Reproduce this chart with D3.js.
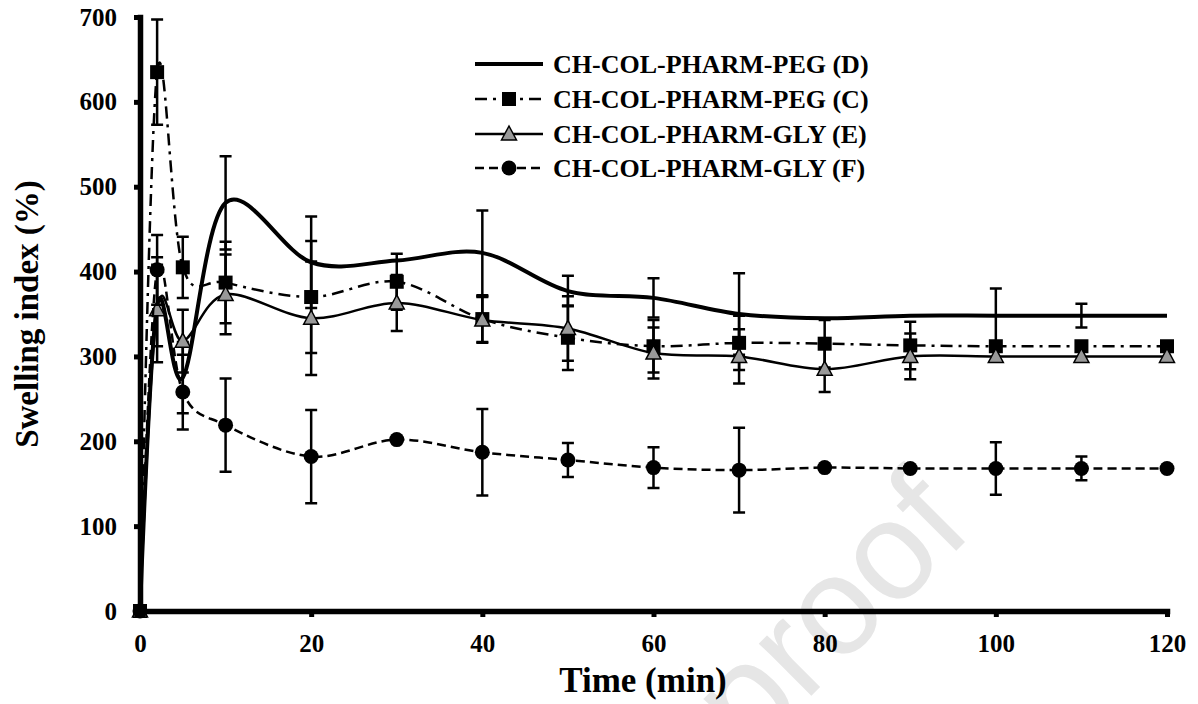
<!DOCTYPE html>
<html>
<head>
<meta charset="utf-8">
<script src="https://cdn.jsdelivr.net/npm/d3@7"></script>
<style>
    body { margin: 0; background: #fff; }
    svg { display: block; }
    text { font-family: 'Liberation Serif', 'Times New Roman', serif; font-weight: bold; fill: #000; }
</style>
</head>
<body>
<svg id="chart" width="1198" height="704"></svg>
<script>
// time points (min)
const times = [0, 2, 5, 10, 20, 30, 40, 50, 60, 70, 80, 90, 100, 110, 120];

// swelling index (%) per formulation
const pegD = [0, 360, 275, 481, 411, 413, 422, 377, 369, 350, 345, 348, 348, 348, 348];
const pegDErr = [0, 48, 42, 55, 54, 0, 50, 18, 23, 48, 0, 0, 32, 14, 0];
const pegC = [0, 635, 405, 387, 370, 388, 344, 322, 312, 316, 315, 313, 312, 312, 312];
const pegCErr = [0, 62, 36, 48, 66, 33, 27, 38, 31, 32, 28, 28, 0, 0, 0];
const glyE = [0, 355, 318, 373, 345, 363, 343, 333, 304, 300, 285, 300, 300, 300, 300];
const glyEErr = [0, 62, 37, 47, 67, 33, 27, 38, 30, 32, 27, 27, 0, 0, 0];
const glyF = [0, 402, 258, 219, 182, 202, 187, 178, 169, 166, 169, 168, 168, 168, 168];
const glyFErr = [0, 41, 44, 55, 55, 0, 51, 20, 24, 50, 0, 0, 31, 14, 0];

const seriesNames = ['CH-COL-PHARM-PEG (D)', 'CH-COL-PHARM-PEG (C)', 'CH-COL-PHARM-GLY (E)', 'CH-COL-PHARM-GLY (F)'];
const xTicks = [0, 20, 40, 60, 80, 100, 120];
const yTicks = [0, 100, 200, 300, 400, 500, 600, 700];

const series = [
    {name: seriesNames[0], values: pegD, errors: pegDErr, marker: 'none', dash: null, width: 4},
    {name: seriesNames[1], values: pegC, errors: pegCErr, marker: 'square', dash: '12,6,3,6', width: 2.5},
    {name: seriesNames[2], values: glyE, errors: glyEErr, marker: 'triangle', dash: null, width: 2.5},
    {name: seriesNames[3], values: glyF, errors: glyFErr, marker: 'circle', dash: '9,5', width: 2.5}
];

const svg = d3.select('#chart');

const x = d3.scaleLinear().domain([0, 120]).range([140, 1167]);
const y = d3.scaleLinear().domain([0, 700]).range([611, 17]);

// watermark (only its last word shows inside the frame)
svg.append('text')
    .attr('transform', 'translate(975,532) rotate(-45)')
    .attr('text-anchor', 'end')
    .style('font-family', "'Liberation Sans', Arial, sans-serif")
    .style('font-weight', 'normal')
    .style('font-size', '140px')
    .style('fill', '#e6e6e6')
    .text('proof');

const line = d3.line()
    .x((d, i) => x(times[i]))
    .y(d => y(d))
    .curve(d3.curveCardinal.tension(0));

function drawMarker (g, type, cx, cy) {
    if (type == 'square') {
        g.append('rect')
            .attr('x', cx - 7)
            .attr('y', cy - 7)
            .attr('width', 14)
            .attr('height', 14)
            .style('fill', '#000');
    } else if (type == 'triangle') {
        g.append('path')
            .attr('d', `M${cx},${cy - 8}L${cx + 7.5},${cy + 6}L${cx - 7.5},${cy + 6}Z`)
            .style('fill', '#999')
            .style('stroke', '#000')
            .style('stroke-width', 1.5);
    } else if (type == 'circle') {
        g.append('circle')
            .attr('cx', cx)
            .attr('cy', cy)
            .attr('r', 7.5)
            .style('fill', '#000');
    }
}

const plot = svg.append('g').attr('class', 'plot');

series.forEach(s => {
    let g = plot.append('g');

    g.append('path')
        .datum(s.values)
        .attr('d', line)
        .style('fill', 'none')
        .style('stroke', '#000')
        .style('stroke-width', s.width)
        .style('stroke-dasharray', s.dash);

    // error bars
    s.values.forEach((v, i) => {
        let e = s.errors[i];
        if (!e) return;
        let cx = x(times[i]);
        g.append('path')
            .attr('d', `M${cx},${y(v - e)}V${y(v + e)}M${cx - 6},${y(v + e)}H${cx + 6}M${cx - 6},${y(v - e)}H${cx + 6}`)
            .style('fill', 'none')
            .style('stroke', '#000')
            .style('stroke-width', 2.5);
    });

    s.values.forEach((v, i) => {
        drawMarker(g, s.marker, x(times[i]), y(v));
    });
});

// axes
const xAxis = svg.append('g')
    .attr('transform', `translate(0,${y(0)})`)
    .call(d3.axisBottom(x).tickValues(xTicks).tickSize(6).tickSizeOuter(0).tickPadding(17));

const yAxis = svg.append('g')
    .attr('transform', `translate(${x(0)},0)`)
    .call(d3.axisLeft(y).tickValues(yTicks).tickSize(6).tickSizeOuter(0).tickPadding(17));

[xAxis, yAxis].forEach(a => {
    a.select('.domain')
        .style('stroke', '#000')
        .style('stroke-width', 5.5)
        .style('stroke-linecap', 'square');
    a.selectAll('.tick line')
        .style('stroke', '#000')
        .style('stroke-width', 5);
    a.selectAll('.tick text')
        .style('font-family', "'Liberation Serif', 'Times New Roman', serif")
        .style('font-weight', 'bold')
        .style('font-size', '25px')
        .style('fill', '#000');
});

svg.append('text')
    .attr('x', 643)
    .attr('y', 692)
    .attr('text-anchor', 'middle')
    .style('font-size', '35px')
    .text('Time (min)');

svg.append('text')
    .attr('transform', 'translate(38,314) rotate(-90)')
    .attr('text-anchor', 'middle')
    .style('font-size', '33px')
    .text('Swelling index (%)');

// legend
const legendY = [64, 99, 134, 168];
const legend = svg.append('g').attr('class', 'legend');

series.forEach((s, i) => {
    let ly = legendY[i];
    legend.append('path')
        .attr('d', `M475,${ly}H543`)
        .style('stroke', '#000')
        .style('stroke-width', s.width)
        .style('stroke-dasharray', s.dash);
    drawMarker(legend, s.marker, 509, ly);
    legend.append('text')
        .attr('x', 553)
        .attr('y', ly)
        .attr('dy', '0.35em')
        .style('font-size', '26px')
        .text(s.name);
});
</script>
</body>
</html>
